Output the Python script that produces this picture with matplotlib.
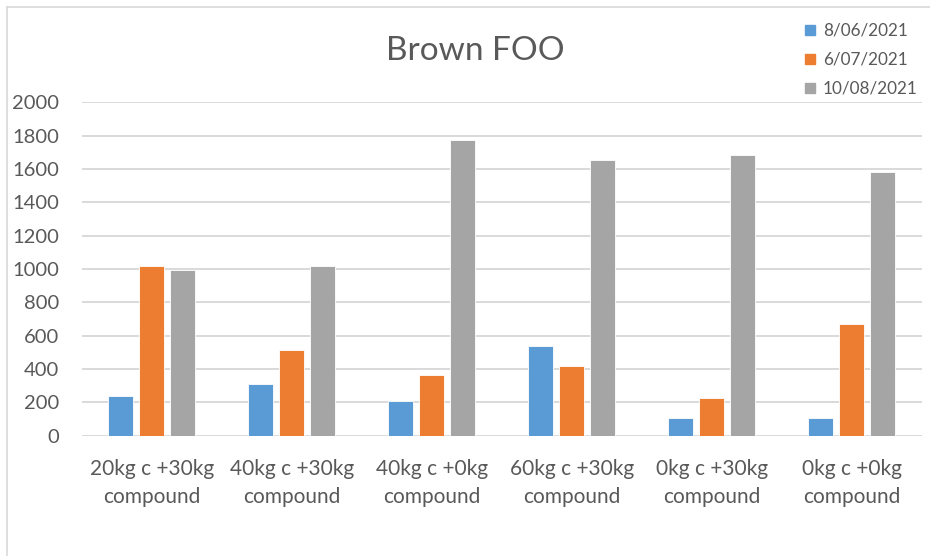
import matplotlib
matplotlib.use("Agg")
import matplotlib.pyplot as plt
from matplotlib.lines import Line2D
import numpy as np

categories = [
    "20kg c +30kg\ncompound",
    "40kg c +30kg\ncompound",
    "40kg c +0kg\ncompound",
    "60kg c +30kg\ncompound",
    "0kg c +30kg\ncompound",
    "0kg c +0kg\ncompound",
]
series_names = ["8/06/2021", "6/07/2021", "10/08/2021"]
foo_jun = [240, 312, 208, 538, 108, 104]
foo_jul = [1020, 516, 364, 418, 224, 672]
foo_aug = [992, 1016, 1776, 1652, 1684, 1580]
y_ticks = [0, 200, 400, 600, 800, 1000, 1200, 1400, 1600, 1800, 2000]

colors = ["#5B9BD5", "#ED7D31", "#A5A5A5"]
text_color = "#595959"
grid_color = "#D9D9D9"
font = "Lato"

plt.rcParams["font.family"] = [font, "DejaVu Sans"]

W, H = 930, 556
fig = plt.figure(figsize=(W / 100, H / 100), dpi=100)
fig.patch.set_facecolor("white")

# plot area in pixel coordinates
x0, x1 = 81.7, 921.7
y_zero, y_top = 435.7, 102.3
ax = fig.add_axes([x0 / W, 1 - y_zero / H, (x1 - x0) / W, (y_zero - y_top) / H])

x = np.arange(len(categories))
pitch = 0.221
width = 0.18
for i, (vals, name, col) in enumerate(zip([foo_jun, foo_jul, foo_aug], series_names, colors)):
    ax.bar(x + (i - 1) * pitch, vals, width=width, color=col, edgecolor="white",
           linewidth=0.6, label=name, zorder=3)

ax.set_xlim(-0.5, len(categories) - 0.5)
ax.set_ylim(0, 2000)
ax.set_yticks(y_ticks)
ax.set_yticklabels([str(t) for t in y_ticks])
ax.set_xticks(x)
ax.set_xticklabels(categories, linespacing=1.5)
ax.tick_params(axis="y", length=0, labelsize=14.5, colors=text_color, pad=16)
ax.tick_params(axis="x", length=0, labelsize=15, colors=text_color, pad=17)
for s in ax.spines.values():
    s.set_visible(False)
ax.yaxis.grid(True, color=grid_color, linewidth=1.4, zorder=0)
ax.set_axisbelow(True)

fig.text(475 / W, 1 - 51 / H, "Brown FOO", ha="center", va="center",
         fontsize=24, color=text_color)

handles = [Line2D([], [], marker="s", linestyle="none", markersize=7.5,
                  markerfacecolor=c, markeredgecolor=c) for c in colors]
leg = fig.legend(handles, series_names, loc="upper left",
                 bbox_to_anchor=(803 / W, 1 - 23 / H), frameon=False,
                 fontsize=12.3, handlelength=0.8, handletextpad=0.35,
                 labelspacing=0.75, borderpad=0, borderaxespad=0)
for t in leg.get_texts():
    t.set_color(text_color)

# chart area border (top and left edges)
fig.add_artist(Line2D([7 / W, 1], [1 - 7 / H, 1 - 7 / H], color=grid_color, linewidth=1.2))
fig.add_artist(Line2D([7 / W, 7 / W], [0, 1 - 7 / H], color=grid_color, linewidth=1.2))

fig.savefig("out.png", dpi=100, facecolor="white")
